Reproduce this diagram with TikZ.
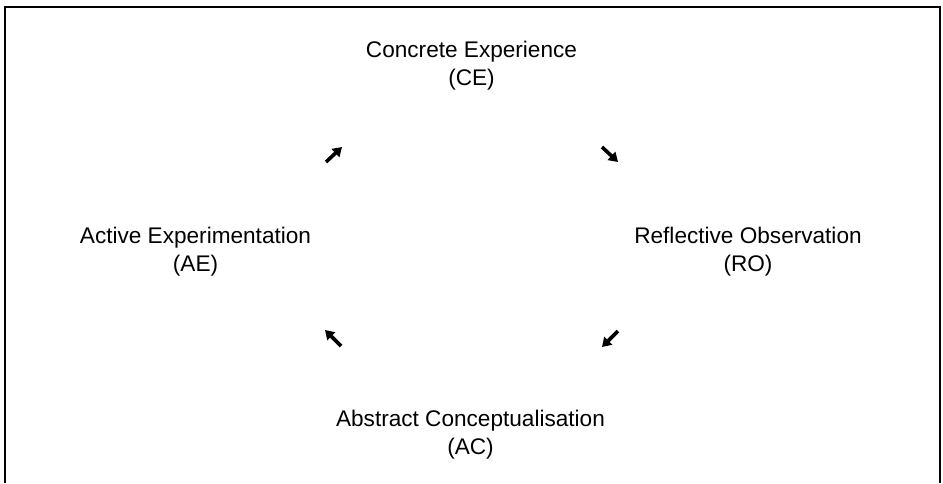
\documentclass[tikz,border=0pt]{standalone}
\usepackage{fontspec}
\setmainfont{Liberation Sans}
\usetikzlibrary{arrows.meta}
\begin{document}
\begin{tikzpicture}[x=1pt,y=-1pt,
  lbl/.style={align=center,font=\fontsize{22.6}{27.5}\selectfont,inner sep=0pt,anchor=north},
  arr/.style={line width=3.6pt,-{Triangle[length=9pt,width=11pt]}}]
\useasboundingbox (0,0) rectangle (943,483);
\draw[line width=1.8pt] (5,483) -- (5,7) -- (940,7) -- (940,483);
\node[lbl] (ce) at (471.5,41) {Concrete Experience\\(CE)};
\node[lbl] (ae) at (195.5,227) {Active Experimentation\\(AE)};
\node[lbl] (ro) at (748,227) {Reflective Observation\\(RO)};
\node[lbl] (ac) at (470.5,410) {Abstract Conceptualisation\\(AC)};
\coordinate (a1s) at (326,162); \coordinate (a1e) at (342,147);
\coordinate (a2s) at (602,147); \coordinate (a2e) at (618,162);
\coordinate (a3s) at (618,331); \coordinate (a3e) at (602,347);
\coordinate (a4s) at (341,346); \coordinate (a4e) at (325,330);
\draw[arr] (a1s) -- (a1e);
\draw[arr] (a2s) -- (a2e);
\draw[arr] (a3s) -- (a3e);
\draw[arr] (a4s) -- (a4e);
\end{tikzpicture}
\end{document}
